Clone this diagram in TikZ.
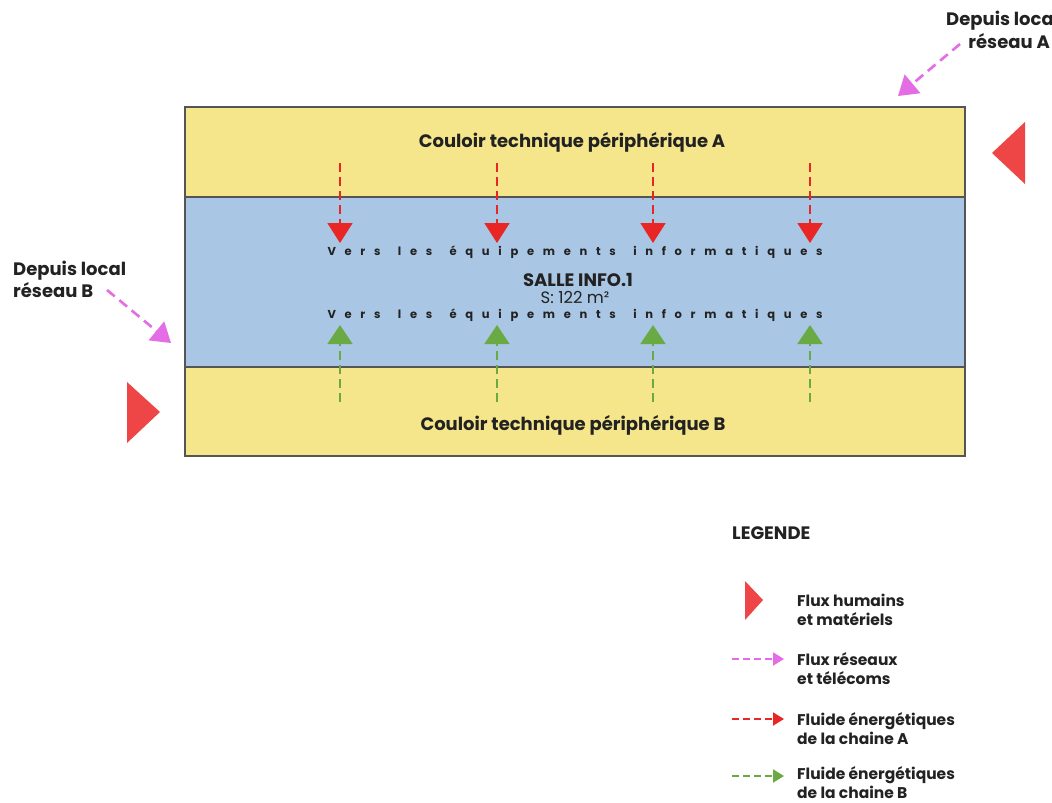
\documentclass[tikz,border=0pt]{standalone}
\usepackage{fontspec}
\setmainfont{Poppins}
\usetikzlibrary{arrows.meta}
\definecolor{cyel}{HTML}{F5E68B}
\definecolor{cblue}{HTML}{A9C6E4}
\definecolor{cframe}{HTML}{555555}
\definecolor{cred}{HTML}{E82626}
\definecolor{ctri}{HTML}{EE4646}
\definecolor{cgreen}{HTML}{6AAA44}
\definecolor{cpink}{HTML}{E46CE4}
\definecolor{ctxt}{HTML}{222222}
\newcommand\verstxt{V\hfil e\hfil r\hfil s\hfil\hfil l\hfil e\hfil s\hfil\hfil é\hfil q\hfil u\hfil i\hfil p\hfil e\hfil m\hfil e\hfil n\hfil t\hfil s\hfil\hfil i\hfil n\hfil f\hfil o\hfil r\hfil m\hfil a\hfil t\hfil i\hfil q\hfil u\hfil e\hfil s}
\begin{document}
\begin{tikzpicture}[x=1pt,y=-1pt,
  frame/.style={draw=cframe,line width=1.6pt},
  lbl/.style={inner sep=0pt,text=ctxt,font=\fontsize{18}{22}\selectfont\bfseries},
  corr/.style={lbl,font=\fontsize{18}{20}\selectfont\bfseries},
  vers/.style={inner sep=0pt,text=ctxt,font=\fontsize{11.5}{12}\selectfont\bfseries},
  leg/.style={lbl,anchor=west,align=left,font=\fontsize{15.5}{19}\selectfont\bfseries},
  redflow/.style={draw=cred,line width=1.8pt,dash pattern=on 9pt off 5pt,-{Triangle[width=25pt,length=20pt]}},
  greenflow/.style={draw=cgreen,line width=1.8pt,dash pattern=on 9pt off 5pt,-{Triangle[width=25pt,length=19pt]}},
  pinkflow/.style={draw=cpink,line width=2.6pt,dash pattern=on 10pt off 6pt,-{Triangle[width=24pt,length=19pt]}},
  legflow/.style={line width=1.8pt,dash pattern=on 7pt off 4pt,-{Triangle[width=13pt,length=11pt]}},
  tri/.style={fill=ctri}]
\useasboundingbox (0,0) rectangle (1052,803);
\fill[white] (0,0) rectangle (1052,803);
% building
\fill[cyel] (185,107) rectangle (965,197);
\fill[cblue] (185,197) rectangle (965,367);
\fill[cyel] (185,367) rectangle (965,456);
\draw[frame] (185,107) rectangle (965,456);
\draw[frame] (185,197) -- (965,197);
\draw[frame] (185,367) -- (965,367);
% labels
\node[corr] (ca) at (572,142) {Couloir technique périphérique A};
\node[corr] (cb) at (573,425) {Couloir technique périphérique B};
\node[vers] (v1) at (575,252) {\makebox[495pt][s]{\verstxt}};
\node[vers] (v2) at (575,315) {\makebox[495pt][s]{\verstxt}};
\node[lbl,font=\fontsize{18}{20}\selectfont\bfseries] (salle) at (578,280) {SALLE INFO.1};
\node[inner sep=0pt,text=ctxt,font=\fontsize{16.5}{18}\selectfont] (surf) at (575,297) {S: 122 m²};
% red flows (chain A) and green flows (chain B)
\foreach \i/\x in {1/340,2/497,3/653,4/810}{
  \coordinate (ra\i) at (\x,163);
  \coordinate (rb\i) at (\x,243);
  \draw[redflow] (ra\i) -- (rb\i);
  \coordinate (ga\i) at (\x,402);
  \coordinate (gb\i) at (\x,325);
  \draw[greenflow] (ga\i) -- (gb\i);
}
% triangles (human flows)
\fill[tri] (1025,122) -- (1025,184) -- (992,153) -- cycle;
\fill[tri] (127,382) -- (127,443) -- (160,412) -- cycle;
% network flows
\node[lbl,anchor=east] (depA1) at (1054,21) {Depuis loca};
\node[lbl,anchor=east] (depA2) at (1050,41) {réseau A};
\coordinate (pa) at (960,44);
\coordinate (pb) at (898,96);
\draw[pinkflow] (pa) -- (pb);
\node[lbl,anchor=west,align=left] (depB) at (13,279) {Depuis local\\réseau B};
\coordinate (pc) at (107,290);
\coordinate (pd) at (171,343);
\draw[pinkflow] (pc) -- (pd);
% legend
\node[lbl,anchor=west] (legt) at (732,533) {LEGENDE};
\fill[tri] (745,581) -- (745,620) -- (763,600) -- cycle;
\node[leg] (l1) at (797,610) {Flux humains\\et matériels};
\coordinate (l2a) at (732,659); \coordinate (l2b) at (784,659);
\draw[legflow,draw=cpink] (l2a) -- (l2b);
\node[leg] (l2) at (797,669) {Flux réseaux\\et télécoms};
\coordinate (l3a) at (732,719); \coordinate (l3b) at (784,719);
\draw[legflow,draw=cred] (l3a) -- (l3b);
\node[leg] (l3) at (797,729) {Fluide énergétiques\\de la chaine A};
\coordinate (l4a) at (732,776); \coordinate (l4b) at (784,776);
\draw[legflow,draw=cgreen] (l4a) -- (l4b);
\node[leg] (l4) at (797,783) {Fluide énergétiques\\de la chaine B};
\end{tikzpicture}
\end{document}
